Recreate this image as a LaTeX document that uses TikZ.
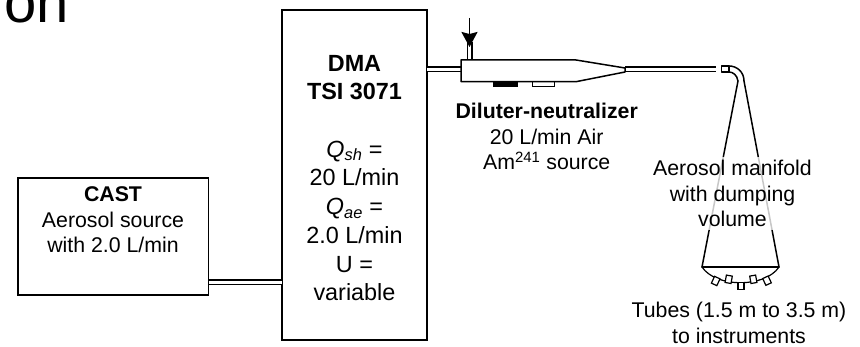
\documentclass[tikz,border=0pt]{standalone}
\usepackage{fontspec}
\setmainfont{Liberation Sans}
\usepackage{tikz}
\usetikzlibrary{arrows.meta}

\tikzset{
  boxNode/.style={draw=drawColor,line width=1.5pt,fill=white,inner sep=0pt,outer sep=0pt,anchor=south west},
  tubeLine/.style={draw=drawColor,line width=1.6pt,double=white,double distance=2.8pt},
  bodyLine/.style={draw=drawColor,line width=1.5pt,line join=round,line cap=round},
  stubNode/.style={draw=drawColor,line width=1.2pt,fill=white,inner sep=0pt,minimum width=6pt,minimum height=7.5pt},
  textNode/.style={text=drawColor,align=center,inner sep=0pt,outer sep=0pt,font=\fontsize{21.3}{25.6}\selectfont},
  dmaText/.style={textNode,font=\fontsize{23.4}{28.7}\selectfont}
}

\begin{document}
\begin{tikzpicture}[x=1pt,y=1pt]
\definecolor{drawColor}{RGB}{0,0,0}
\path[use as bounding box,fill=white] (0,0) rectangle (860,347);
\begin{scope}
\path[clip] (0,0) rectangle (860,347);

\node[text=drawColor,anchor=base east,inner sep=0pt,outer sep=0pt,font=\fontsize{58}{60}\selectfont] (titleEnd) at (69,324) {ion};

\coordinate (tubeA) at (245,64.5);
\coordinate (tubeB) at (445,277.7);
\coordinate (dilIn) at (461,277.7);
\coordinate (dilOut) at (625,277.7);
\coordinate (elbowIn) at (715.5,277.7);
\coordinate (airTop) at (469.5,329);
\coordinate (airIn) at (469.5,287);
\coordinate (airTube) at (469.5,305);

\node[boxNode,minimum width=190.7pt,minimum height=117pt] (cast) at (18,52) {};

\node[boxNode,minimum width=145pt,minimum height=330pt] (dma) at (282,7) {};

\path[tubeLine] (tubeA -| cast.east) -- (tubeA -| dma.west);

\path[tubeLine] (tubeB -| dma.east) -- (dilIn);

\path[tubeLine] (dilOut) -- (elbowIn);

\path[tubeLine] (airTube) -- (airIn);

\path[bodyLine,fill=white] (461,287) --
	(576,287) --
	(625,279) --
	(625,275) --
	(576,265.3) --
	(461,265.3) --
	cycle;

\path[draw=drawColor,fill=drawColor,line width=1pt] (493,260) rectangle (517,265.3);

\path[draw=drawColor,line width=1pt] (532,260) rectangle (554,265.3);

\path[draw=drawColor,line width=1.8pt,-{Stealth[length=15pt,width=16pt,inset=2pt]}] (airTop) -- (469.5,300);

\path[bodyLine,line width=1.2pt] (721.7,281) rectangle (729,275);

\path[bodyLine] (729,281) .. controls (737,281) and (744,275) .. (744,266);

\path[bodyLine] (729,275) .. controls (733,275) and (737,272) .. (738,266);

\path[bodyLine] (738,266) -- (702,80);

\path[bodyLine] (744,266) -- (779,80);

\path[bodyLine] (702,80) -- (779,80);

\path[bodyLine,line width=1.2pt] (702,80) .. controls (716,59) and (765,59) .. (779,80);

\node[stubNode,rotate=-25] (stubA) at (715.7,66) {};

\node[stubNode,rotate=-10] (stubB) at (728.7,67.7) {};

\node[stubNode] (stubC) at (741,61) {};

\node[stubNode,rotate=10] (stubD) at (753.3,67.7) {};

\node[stubNode,rotate=25] (stubE) at (767,66.3) {};

\node[textNode] (castText) at (113,127) {\textbf{CAST}\\Aerosol source\\with 2.0 L/min};

\node[dmaText] (dmaText) at (354.5,169) {\textbf{DMA}\\\textbf{TSI 3071}\\[28.7pt]\textit{Q}\textsubscript{\textit{sh}} =\\20 L/min\\\textit{Q}\textsubscript{\textit{ae}} =\\2.0 L/min\\U =\\variable};

\node[textNode] (dilText) at (546.7,210.5) {\textbf{Diluter-neutralizer}\\20 L/min Air\\Am\textsuperscript{241} source};

\node[textNode,fill=white,fill opacity=0.78,text opacity=1,inner xsep=18pt,inner ysep=3pt] (manText) at (732.5,153.5) {Aerosol manifold\\with dumping\\volume};

\node[textNode] (tubesText) at (739,24) {Tubes (1.5 m to 3.5 m)\\to instruments};
\end{scope}
\end{tikzpicture}
\end{document}
